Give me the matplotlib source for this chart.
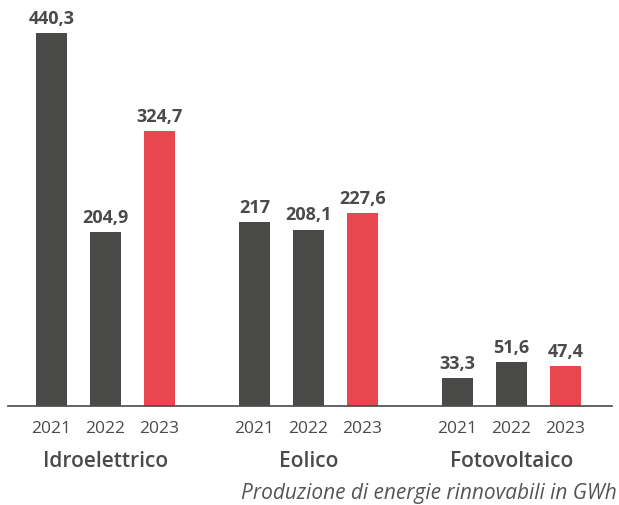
import matplotlib
matplotlib.use("Agg")
import matplotlib.pyplot as plt

categories = ["Idroelettrico", "Eolico", "Fotovoltaico"]
years = ["2021", "2022", "2023"]
values = [
    [440.3, 204.9, 324.7],
    [217.0, 208.1, 227.6],
    [33.3, 51.6, 47.4],
]
labels = [
    ["440,3", "204,9", "324,7"],
    ["217", "208,1", "227,6"],
    ["33,3", "51,6", "47,4"],
]
caption = "Produzione di energie rinnovabili in GWh"

dark = "#4a4a48"
red = "#e8474f"
txt = "#4a4a4a"
font = "Open Sans"

W, H = 619, 506
fig = plt.figure(figsize=(W / 100, H / 100), dpi=100)
base = 407
ax = fig.add_axes([0, (H - base) / H, 1, base / H])
ax.set_xlim(0, W)
ax.set_ylim(0, base / 0.847)
for s in ax.spines.values():
    s.set_visible(False)
ax.set_xticks([])
ax.set_yticks([])

step = 54
group_step = 203
first = 51.5
for g, cat in enumerate(categories):
    for i, yr in enumerate(years):
        x = first + g * group_step + i * step
        v = values[g][i]
        ax.bar(x, v, width=31, color=red if i == 2 else dark)
        ax.annotate(labels[g][i], (x, v), xytext=(0, 4.5), textcoords="offset points",
                    ha="center", va="bottom", fontsize=13, fontweight="bold",
                    color=txt, family=font)
        fig.text(x / W, 1 - 429 / H, yr, ha="center", va="center",
                 fontsize=12.5, color=txt, family=font)
    cx = first + g * group_step + step
    fig.text(cx / W, 1 - 462 / H, cat, ha="center", va="center",
             fontsize=15, fontweight="semibold", color=txt, family=font)

ax.plot([8, 612], [0, 0], color=dark, lw=1.2, clip_on=False)

fig.text(617 / W, 2 / H, caption, ha="right", va="bottom",
         fontsize=15, style="italic", color="#555555", family=font)

fig.savefig("out.png", dpi=100)
